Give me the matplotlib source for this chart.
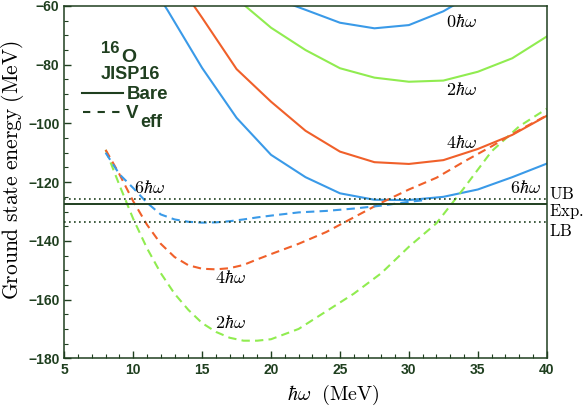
import matplotlib
matplotlib.use("Agg")
import matplotlib.pyplot as plt

# bare interaction, Nmax = 0, 2, 4, 6 (hbar*omega in MeV)
hw_bare = [10, 12.5, 15, 17.5, 20, 22.5, 25, 27.5, 30, 32.5, 35, 37.5, 40]
bare_0 = [None, None, None, None, -57, -61.3, -65.7, -67.6, -66.5, -61.8, -55, None, None]
bare_2 = [None, None, None, -57.5, -67.4, -75, -81.2, -84.4, -85.8, -85.4, -82.4, -77.8, -70.4]
bare_4 = [None, -47, -64, -81.5, -92.6, -102.5, -109.6, -113.2, -113.8, -112.5, -108.7, -103.9, -97.4]
bare_6 = [-43, -61.5, -81.1, -98.1, -110.7, -118.3, -123.8, -126, -126.1, -125, -122.5, -118.3, -113.7]

# effective interaction
hw_eff = [8, 9, 10, 11, 12, 13, 14, 15, 16, 17, 18, 19, 20, 22, 24, 26, 28, 30, 32, 34, 36, 38, 40]
eff_2 = [-109, -121, -132.5, -142.5, -151, -158, -163.5, -168, -171, -173, -174, -174, -173.5,
         -170, -164, -158, -151, -142, -134, -122, -109.5, -101, -95]
eff_4 = [-109, -117.3, -126.5, -134.5, -141, -145.5, -148.3, -149.5, -149.7, -149.3, -148.2, -146.3,
         -144.5, -141, -137, -132, -127, -122.5, -118.5, -113, -107.8, -102.3, -97.3]
hw_eff6 = [8, 9, 10, 11, 12, 13, 14, 15, 16, 17, 18, 19, 20, 22, 24, 26, 28, 30, 31]
eff_6 = [-110, -117.3, -122, -127, -131, -132.7, -133.5, -133.8, -133.7, -133.3, -132.7, -132,
         -131.4, -130.3, -129.8, -129, -128, -126.7, -126.2]

e_ub = -125.9
e_exp = -127.6
e_lb = -133.7

blue = "#3a9ae8"
red = "#f0602a"
green = "#90ec50"
dark = "#1f3f1f"

plt.rcParams["mathtext.fontset"] = "cm"

fig = plt.figure(figsize=(5.86, 4.08), dpi=100)
ax = fig.add_axes([0.1097, 0.1218, 0.8233, 0.8635])

def clean(xs, ys):
    pts = [(x, y) for x, y in zip(xs, ys) if y is not None]
    return [p[0] for p in pts], [p[1] for p in pts]

for ys, c in [(bare_0, blue), (bare_2, green), (bare_4, red), (bare_6, blue)]:
    x, y = clean(hw_bare, ys)
    ax.plot(x, y, color=c, lw=1.5)

for xs, ys, c in [(hw_eff, eff_2, green), (hw_eff, eff_4, red), (hw_eff6, eff_6, blue)]:
    ax.plot(xs, ys, color=c, lw=1.5, dashes=(4, 2.5))

ax.axhline(e_ub, color=dark, lw=1.2, ls=(0, (1, 2)))
ax.axhline(e_exp, color=dark, lw=1.4)
ax.axhline(e_lb, color=dark, lw=1.2, ls=(0, (1, 2)))

ax.set_xlim(5, 40)
ax.set_ylim(-180, -60)
ax.set_xticks(range(5, 41, 5))
ax.set_yticks(range(-180, -59, 20))
ax.set_xticks(range(5, 41), minor=True)
ax.set_yticks(range(-180, -59, 5), minor=True)
ax.tick_params(which="both", direction="in", top=False, right=False, color=dark)
ax.tick_params(which="major", length=5, width=1)
ax.tick_params(which="minor", length=3, width=0.8)
for lab in ax.get_xticklabels() + ax.get_yticklabels():
    lab.set_family("Liberation Sans")
    lab.set_weight("bold")
    lab.set_size(10)
    lab.set_color(dark)
for s in ax.spines.values():
    s.set_color(dark)
    s.set_linewidth(1.1)

ax.set_xlabel(r"$\hbar\omega\ \ \mathrm{(MeV)}$", fontsize=14.5)
ax.xaxis.set_label_coords(0.557, -0.07)
ax.set_ylabel(r"$\mathrm{Ground\ state\ energy\ (MeV)}$", fontsize=15.5)
ax.yaxis.set_label_coords(-0.08, 0.534)

lab_kw = dict(fontsize=13, ha="center", va="center")
ax.text(33.84, -65.3, r"$0\hbar\omega$", **lab_kw)
ax.text(33.84, -88.6, r"$2\hbar\omega$", **lab_kw)
ax.text(33.84, -106.8, r"$4\hbar\omega$", **lab_kw)
ax.text(38.43, -122.1, r"$6\hbar\omega$", **lab_kw)
ax.text(11.17, -122.1, r"$6\hbar\omega$", **lab_kw)
ax.text(17.03, -152.8, r"$4\hbar\omega$", **lab_kw)
ax.text(17.03, -168.1, r"$2\hbar\omega$", **lab_kw)

side_kw = dict(fontsize=12, ha="left", va="center", clip_on=False)
ax.text(40.15, -123.9, r"$\mathrm{UB}$", **side_kw)
ax.text(40.15, -130.0, r"$\mathrm{Exp.}$", **side_kw)
ax.text(40.15, -136.6, r"$\mathrm{LB}$", **side_kw)

# legend block
leg_kw = dict(family="Liberation Sans", weight="bold", color=dark, va="center")
ax.text(8.3, -74.4, "16", fontsize=12, ha="center", **leg_kw)
ax.text(9.65, -77.6, "O", fontsize=14, ha="center", **leg_kw)
ax.text(9.77, -83.5, "JISP16", fontsize=13, ha="center", **leg_kw)
ax.plot([6.29, 9.27], [-89.7, -89.7], color=dark, lw=1.5)
ax.text(9.5, -90.3, "Bare", fontsize=13.5, ha="left", **leg_kw)
ax.plot([6.35, 9.2], [-96.1, -96.1], color=dark, lw=1.5, dashes=(3.5, 3.5))
ax.text(9.5, -96.6, "V", fontsize=13.5, ha="left", **leg_kw)
ax.text(10.5, -99.6, "eff", fontsize=13, ha="left", **leg_kw)

fig.savefig("out.png", dpi=100)
